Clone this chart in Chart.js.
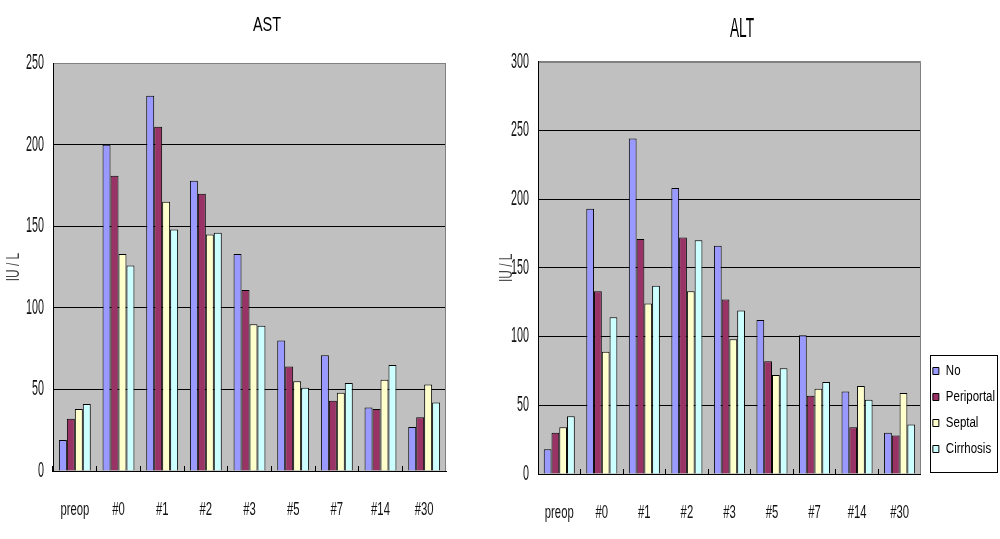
<!DOCTYPE html>
<html>
<head>
<meta charset="utf-8">
<script src="https://cdn.jsdelivr.net/npm/chart.js@4/dist/chart.umd.min.js"></script>
<style>
  html, body { margin: 0; padding: 0; background: #fff; }
  body { width: 1000px; height: 539px; position: relative; overflow: hidden; }
  canvas { position: absolute; top: 0; }
  #ast { left: 0; }
  #alt { left: 479px; }
</style>
</head>
<body>
<canvas id="ast" width="534" height="539"></canvas>
<canvas id="alt" width="521" height="539"></canvas>
<script>
// Postoperative AST / ALT by fibrosis stage
const categories = ['preop', '#0', '#1', '#2', '#3', '#5', '#7', '#14', '#30'];
const seriesNames = ['No', 'Periportal', 'Septal', 'Cirrhosis'];
const seriesColors = ['#9999FF', '#993366', '#FFFFCC', '#CCFFFF'];

const astNo         = [19, 200, 230, 178, 133, 80, 71, 39, 27];
const astPeriportal = [32, 181, 211, 170, 111, 64, 43, 38, 33];
const astSeptal     = [38, 133, 165, 145, 90, 55, 48, 56, 53];
const astCirrhosis  = [41, 126, 148, 146, 89, 51, 54, 65, 42];

const altNo         = [18, 193, 244, 208, 166, 112, 101, 60, 30];
const altPeriportal = [30, 133, 171, 172, 127, 82, 57, 34, 28];
const altSeptal     = [34, 89, 124, 133, 98, 72, 62, 64, 59];
const altCirrhosis  = [42, 114, 137, 170, 119, 77, 67, 54, 36];

const astTicks = [0, 50, 100, 150, 200, 250];
const altTicks = [0, 50, 100, 150, 200, 250, 300];

const FONT = "'Liberation Sans', Arial, sans-serif";

// type sizes used below and the horizontal squeeze each one is set with
const SIZE = { tick: 21.5, category: 18.5, axisTitle: 18, astTitle: 21, altTitle: 28, legend: 14 };
const SQUEEZE = { 21.5: 0.5, 18.5: 0.61, 18: 0.66, 21: 0.69, 28: 0.49, 14: 0.82 };

// Draw canvas text horizontally condensed; measurements follow suit
function condenseText(canvas) {
  const ctx = canvas.getContext('2d');
  const fill = ctx.fillText.bind(ctx);
  const measure = ctx.measureText.bind(ctx);
  const factor = () => {
    const m = /(\d+(?:\.\d+)?)px/.exec(ctx.font);
    return (m && SQUEEZE[parseFloat(m[1])]) || 1;
  };
  ctx.fillText = function (text, x, y, maxWidth) {
    const k = factor();
    if (k === 1) {
      return maxWidth === undefined ? fill(text, x, y) : fill(text, x, y, maxWidth);
    }
    ctx.save();
    ctx.translate(x, y);
    ctx.scale(k, 1);
    if (maxWidth === undefined) fill(text, 0, 0); else fill(text, 0, 0, maxWidth / k);
    ctx.restore();
  };
  ctx.measureText = function (text) {
    const m = measure(text);
    const k = factor();
    if (k === 1) return m;
    return {
      width: m.width * k,
      actualBoundingBoxLeft: m.actualBoundingBoxLeft * k,
      actualBoundingBoxRight: m.actualBoundingBoxRight * k,
      actualBoundingBoxAscent: m.actualBoundingBoxAscent,
      actualBoundingBoxDescent: m.actualBoundingBoxDescent
    };
  };
  return canvas;
}

// grey plot area with a light frame on the top and right edges
const plotFrame = {
  id: 'plotFrame',
  beforeDraw(chart, args, opts) {
    const { ctx, chartArea: a } = chart;
    ctx.save();
    ctx.fillStyle = opts.fill;
    ctx.fillRect(a.left, a.top, a.right - a.left, a.bottom - a.top);
    ctx.restore();
  },
  afterDraw(chart, args, opts) {
    const { ctx, chartArea: a } = chart;
    ctx.save();
    ctx.strokeStyle = opts.edge;
    ctx.lineWidth = 1;
    ctx.beginPath();
    ctx.moveTo(a.left + 1, Math.round(a.top) + 0.5);
    ctx.lineTo(Math.round(a.right) - 0.5, Math.round(a.top) + 0.5);
    ctx.lineTo(Math.round(a.right) - 0.5, a.bottom);
    ctx.stroke();
    ctx.restore();
  }
};

// legend sits a little above the axis line, inside a thin box
const legendFrame = {
  id: 'legendFrame',
  afterLayout(chart, args, opts) {
    const lg = chart.legend;
    if (!opts.display || !lg) return;
    lg.top -= opts.lift;
    lg.bottom -= opts.lift;
  },
  afterDraw(chart, args, opts) {
    if (!opts.display) return;
    const hb = chart.legend && chart.legend.legendHitBoxes;
    if (!hb || !hb.length) return;
    const first = hb[0], last = hb[hb.length - 1];
    const right = Math.max(...hb.map(h => h.left + h.width));
    const x0 = Math.round(first.left - 3) + 0.5;
    const y0 = Math.round(first.top - 9) + 0.5;
    const x1 = Math.round(right + 2) + 0.5;
    const y1 = Math.round(last.top + last.height + 16) + 0.5;
    const { ctx } = chart;
    ctx.save();
    ctx.strokeStyle = '#000';
    ctx.lineWidth = 1;
    ctx.strokeRect(x0, y0, x1 - x0, y1 - y0);
    ctx.restore();
  }
};

function makeDatasets(lists) {
  return lists.map((values, i) => ({
    label: seriesNames[i],
    data: values,
    backgroundColor: seriesColors[i],
    borderColor: '#000',
    borderWidth: 1,
    categoryPercentage: 0.73,
    barPercentage: 1.0
  }));
}

function makeChart(canvasId, cfg) {
  const topValue = cfg.ticks[cfg.ticks.length - 1];
  const scales = {
    x: {
      afterFit: s => { s.height = cfg.xHeight; },
      grid: { drawOnChartArea: false, tickLength: -5, color: '#000', offset: true },
      border: { color: '#000' },
      ticks: {
        padding: cfg.xPad, color: '#111', autoSkip: false, maxRotation: 0,
        font: { family: FONT, size: SIZE.category }
      }
    },
    y: {
      min: 0,
      max: topValue,
      afterBuildTicks: s => { s.ticks = cfg.ticks.map(v => ({ value: v })); },
      afterFit: s => { s.width = cfg.yWidth; },
      grid: {
        drawTicks: false,
        color: c => (c.tick && c.tick.value === topValue ? '#808080' : '#000')
      },
      border: { color: '#000' },
      ticks: { padding: cfg.yPad, color: '#111', font: { family: FONT, size: SIZE.tick } },
      title: {
        display: true, text: 'IU / L', color: '#444',
        padding: { top: cfg.yTitlePad, bottom: 0 },
        font: { family: FONT, size: SIZE.axisTitle }
      }
    }
  };
  if (cfg.rightSpace) {
    scales.y2 = {
      position: 'right',
      display: true,
      afterFit: s => { s.width = cfg.rightSpace; },
      grid: { display: false, drawTicks: false },
      border: { display: false },
      ticks: { display: false }
    };
  }
  return new Chart(condenseText(document.getElementById(canvasId)), {
    type: 'bar',
    data: { labels: categories, datasets: makeDatasets(cfg.series) },
    options: {
      responsive: false,
      devicePixelRatio: 1,
      animation: false,
      layout: { padding: cfg.layoutPad },
      scales,
      plugins: {
        title: {
          display: true, text: cfg.title, color: '#000',
          font: { family: FONT, size: cfg.titleSize, weight: 'normal' },
          padding: cfg.titlePad
        },
        legend: cfg.legend,
        tooltip: { enabled: false },
        plotFrame: { fill: '#C0C0C0', edge: '#808080' },
        legendFrame: { display: cfg.legend.display, lift: 6 }
      }
    },
    plugins: [plotFrame, legendFrame]
  });
}

makeChart('ast', {
  title: 'AST', titleSize: SIZE.astTitle, titlePad: { top: 13, bottom: 25 },
  series: [astNo, astPeriportal, astSeptal, astCirrhosis],
  ticks: astTicks,
  xHeight: 68, xPad: 33,
  yWidth: 53, yPad: 9, yTitlePad: 3,
  rightSpace: 88,
  layoutPad: 0,
  legend: { display: false }
});

makeChart('alt', {
  title: 'ALT', titleSize: SIZE.altTitle, titlePad: { top: 12, bottom: 16 },
  series: [altNo, altPeriportal, altSeptal, altCirrhosis],
  ticks: altTicks,
  xHeight: 65, xPad: 33,
  yWidth: 59, yPad: 9, yTitlePad: 17,
  rightSpace: 0,
  layoutPad: { right: -5 },
  legend: {
    display: true,
    fullSize: false,
    position: 'right',
    align: 'end',
    labels: {
      boxWidth: 6, boxHeight: 7, padding: 12, color: '#000',
      font: { family: FONT, size: SIZE.legend }
    }
  }
});
</script>
</body>
</html>
